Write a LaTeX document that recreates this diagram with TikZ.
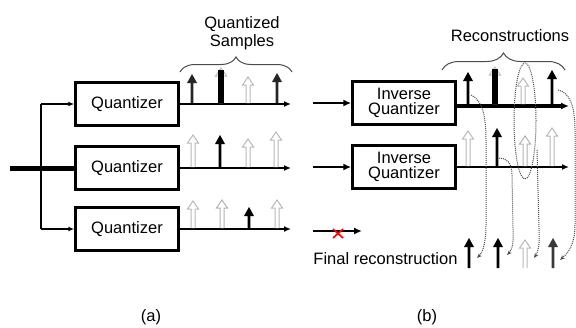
\documentclass[tikz,border=0pt]{standalone}
\usepackage{fontspec}
\setmainfont{Liberation Sans}
\usetikzlibrary{arrows.meta,decorations.pathreplacing}

% upward sample arrows: x, base y, tip y, colour (y grows downward)
\newcommand{\solidarrow}[4]{%
  \fill[#4] (#1-1.4,#2) -- (#1-1.4,#3+9) -- (#1-5,#3+9) -- (#1,#3) -- (#1+5,#3+9) -- (#1+1.4,#3+9) -- (#1+1.4,#2) -- cycle;}
\newcommand{\hollowarrow}[4]{%
  \draw[draw=#4,fill=white,line width=1pt,line join=miter] (#1-2,#2) -- (#1-2,#3+8) -- (#1-5.5,#3+8) -- (#1,#3) -- (#1+5.5,#3+8) -- (#1+2,#3+8) -- (#1+2,#2);}
\newcommand{\bararrow}[4]{%
  \hollowarrow{#1}{#2}{#3}{#4}%
  \fill[black] (#1-3,#3+2) rectangle (#1+3,#2);}

\begin{document}
\begin{tikzpicture}[x=1pt,y=-1pt,
  txt/.style={font=\fontsize{16.5}{18}\selectfont},
  qbox/.style={draw,line width=2.5pt,minimum width=103pt,minimum height=43pt,inner sep=0pt,txt,align=center},
  sigline/.style={line width=2pt,-{Latex[length=7pt,width=6pt]}},
  dots/.style={densely dotted,gray!60!black,line width=1pt,-{Stealth[length=5pt,width=4pt]}},
  bracestyle/.style={decorate,gray!60!black,line width=1pt}]
\useasboundingbox (0,0) rectangle (576,327);

% ---------- (a) parallel quantizers ----------
\node[qbox] (q1) at (127,104) {Quantizer};
\node[qbox] (q2) at (127,168) {Quantizer};
\node[qbox] (q3) at (127,229) {Quantizer};

\coordinate (src) at (10,168);
\coordinate (bt) at (41,104);
\coordinate (bb) at (41,229);
\draw[line width=5pt] (src) -- (q2.west);
\draw[line width=2pt] (bt) -- (bb);
\draw[line width=1.5pt,-{Latex[length=6pt,width=5pt]}] (bt) -- (q1.west);
\draw[line width=1.5pt,-{Latex[length=6pt,width=5pt]}] (bb) -- (q3.west);

\coordinate (o1) at (291,104);
\coordinate (o2) at (291,168);
\coordinate (o3) at (291,229);
\draw[sigline] (q1.east |- o1) -- (o1);
\draw[sigline] (q2.east |- o2) -- (o2);
\draw[sigline] (q3.east |- o3) -- (o3);

% quantized samples, first quantizer
\solidarrow{192}{103}{74}{gray!30!black}
\bararrow{221}{103}{68}{gray!50}
\hollowarrow{248}{103}{77}{gray!55}
\solidarrow{277}{103}{73}{gray!30!black}
% second quantizer
\hollowarrow{193}{167}{135}{gray!55}
\solidarrow{220}{167}{135}{black}
\hollowarrow{248}{167}{139}{gray!55}
\hollowarrow{276}{167}{132}{gray!55}
% third quantizer
\hollowarrow{193}{228}{201}{gray!55}
\hollowarrow{222}{228}{200}{gray!60}
\solidarrow{249}{228}{207}{black}
\hollowarrow{277}{228}{200}{gray!55}

\draw[bracestyle,decoration={brace,amplitude=15pt}] (180,72) -- (292,72);
\node[txt,align=center] (qs) at (242,33) {Quantized\\Samples};

\node[txt] (la) at (151,317) {(a)};

% ---------- (b) inverse quantizers ----------
\node[qbox] (iq1) at (404,103) {Inverse\\[-3pt]Quantizer};
\node[qbox] (iq2) at (404,167) {Inverse\\[-3pt]Quantizer};

\coordinate (ia1) at (313,103);
\coordinate (ia2) at (313,167);
\coordinate (ia3) at (313,231);
\coordinate (ie3) at (362,231);
\draw[line width=2.8pt,-{Latex[length=8pt,width=7pt]}] (ia1) -- (iq1.west);
\draw[line width=2.8pt,-{Latex[length=8pt,width=7pt]}] (ia2) -- (iq2.west);
\draw[line width=2.8pt,-{Latex[length=8pt,width=7pt]}] (ia3) -- (ie3);
\draw[red,line width=1.6pt] (333,229) -- (343,238) (343,229) -- (333,238);

\coordinate (r1) at (569,106);
\coordinate (r2) at (569,167);
\draw[line width=4pt,-{Latex[length=8pt,width=7pt]}] (iq1.east |- r1) -- (r1);
\draw[sigline] (iq2.east |- r2) -- (r2);

% reconstructed samples, first inverse quantizer
\solidarrow{468}{104}{72}{black}
\bararrow{495}{104}{67}{gray!50}
\hollowarrow{523}{104}{78}{gray!55}
\solidarrow{552}{104}{70}{black}
% second inverse quantizer
\hollowarrow{468}{166}{131}{gray!55}
\solidarrow{497}{166}{128}{black}
\hollowarrow{525}{166}{136}{gray!60}
\hollowarrow{552}{166}{128}{gray!55}
% final reconstruction
\solidarrow{469}{268}{238}{black}
\solidarrow{498}{268}{238}{black}
\hollowarrow{525}{268}{240}{gray!55}
\solidarrow{553}{268}{238}{gray!45!black}

\draw[bracestyle,decoration={brace,amplitude=17pt}] (442,70) -- (565,70);
\node[txt] (rc) at (510,36) {Reconstructions};
\node[txt,anchor=east] (fr) at (461,259) {Final reconstruction};

% selection paths from the two reconstructions to the final one
\coordinate (f1) at (477,258);
\coordinate (f2) at (507,255);
\coordinate (f3) at (534,258);
\coordinate (f4) at (560,260);
\draw[dots] (471,95) .. controls (482,100) and (486,115) .. (486,140) -- (486,225) .. controls (486,242) and (483,252) .. (f1);
\draw[dots] (499,158) .. controls (506,158) and (512,162) .. (512,175) -- (513,228) .. controls (514,242) and (512,250) .. (f2);
\draw[densely dotted,gray!60!black,line width=1pt] (525,121) ellipse [x radius=11pt,y radius=58pt];
\draw[dots] (537,150) -- (539,228) .. controls (540,244) and (538,252) .. (f3);
\draw[dots] (558,90) .. controls (569,92) and (575,105) .. (575,130) -- (575,225) .. controls (575,245) and (568,253) .. (f4);

\node[txt] (lb) at (427,317) {(b)};
\end{tikzpicture}
\end{document}
